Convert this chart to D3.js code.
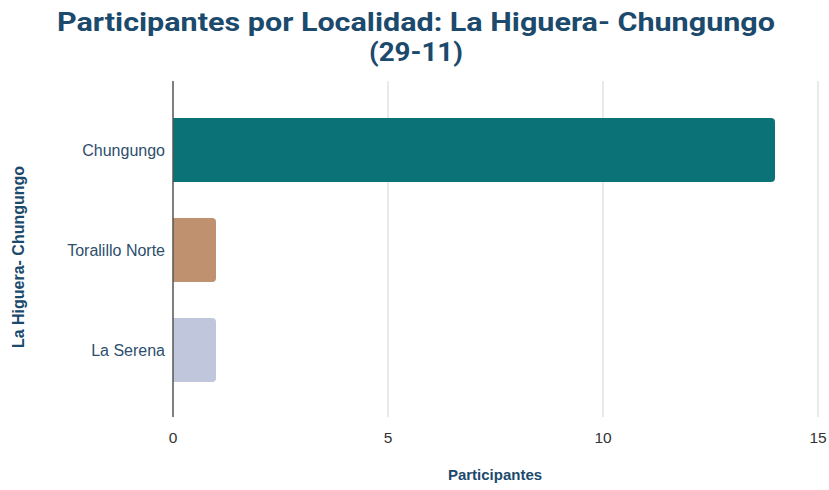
<!DOCTYPE html>
<html><head><meta charset="utf-8">
<script src="https://cdn.jsdelivr.net/npm/d3@7"></script>
<style>body{margin:0;background:#fff}</style>
</head><body>
<svg id="c" width="829" height="490"></svg>
<script>
const categories = ["Chungungo", "Toralillo Norte", "La Serena"];
const values = [14, 1, 1];
const colors = ["#0b7378", "#c0916e", "#c0c7dc"];
const xTicks = [0, 5, 10, 15];
const titleLines = ["Participantes por Localidad: La Higuera- Chungungo", "(29-11)"];
const xTitle = "Participantes";
const yTitle = "La Higuera- Chungungo";

const svg = d3.select("#c");
const m = {left:173, right:818, top:68, bottom:432};
const x = d3.scaleLinear().domain([0,15]).range([m.left, m.right]);
const y = d3.scaleBand().domain(categories).range([m.top, m.bottom]).paddingInner(0.36).paddingOuter(0.5);

svg.append("g").selectAll("line").data(xTicks.filter(t=>t>0)).join("line")
  .attr("x1", d=>x(d)).attr("x2", d=>x(d)).attr("y1", 81).attr("y2", 417)
  .attr("stroke", "#d4d4d4").attr("stroke-width", 1);

function barPath(x0, x1, y0, h, r){
  r = Math.min(r, (x1-x0)/2);
  return `M${x0},${y0}H${x1-r}Q${x1},${y0} ${x1},${y0+r}V${y0+h-r}Q${x1},${y0+h} ${x1-r},${y0+h}H${x0}Z`;
}
svg.append("g").selectAll("path").data(categories).join("path")
  .attr("d", (d,i)=>barPath(x(0), x(values[i]), y(d), y.bandwidth(), 4))
  .attr("fill", (d,i)=>colors[i]);

svg.append("line").attr("x1", x(0)).attr("x2", x(0)).attr("y1", 81).attr("y2", 417)
  .attr("stroke", "#555").attr("stroke-width", 1.5);

const F = "'Liberation Sans', Arial, sans-serif";
svg.append("g").selectAll("text").data(xTicks).join("text")
  .attr("x", d=>x(d)).attr("y", 443).attr("text-anchor","middle")
  .attr("font-family",F).attr("font-size",15.5).attr("fill","#333")
  .text(d=>d);

svg.append("g").selectAll("text").data(categories).join("text")
  .attr("x", m.left-8).attr("y", d=>y(d)+y.bandwidth()/2).attr("dy","0.35em")
  .attr("text-anchor","end")
  .attr("font-family",F).attr("font-size",16).attr("fill","#2d4e6d")
  .text(d=>d);

const titleLens = [718, 94];
svg.append("g").selectAll("text").data(titleLines).join("text")
  .attr("x", 416).attr("y", (d,i)=>31+i*30).attr("text-anchor","middle")
  .attr("font-family","Roboto, Arial, sans-serif").attr("font-weight","bold")
  .attr("font-size",25).attr("fill","#1b4a6c")
  .attr("textLength",(d,i)=>titleLens[i]).attr("lengthAdjust","spacingAndGlyphs")
  .text(d=>d);

svg.append("text").attr("x", 495).attr("y", 480).attr("text-anchor","middle")
  .attr("font-family",F).attr("font-weight","bold")
  .attr("font-size",15).attr("fill","#1b4a6c").text(xTitle);
svg.append("text").attr("transform","translate(24,257) rotate(-90)").attr("text-anchor","middle")
  .attr("font-family",F).attr("font-weight","bold")
  .attr("font-size",16).attr("fill","#1b4a6c").text(yTitle);
</script>
</body></html>
